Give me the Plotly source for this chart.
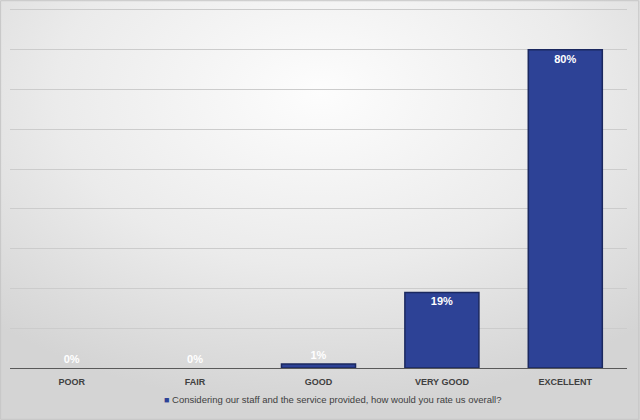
import plotly.graph_objects as go
from urllib.parse import quote

# survey results
ratings = ["POOR", "FAIR", "GOOD", "VERY GOOD", "EXCELLENT"]
shares = [0.0, 0.0, 0.01, 0.19, 0.80]
question = "Considering our staff and the service provided, how would you rate us overall?"

bar_color = "#2d4296"
edge_color = "#1b285f"
font = "Liberation Sans Narrow, Liberation Sans, Arial"

# grey radial background like the office chart style
bg_svg = (
    '<svg xmlns="http://www.w3.org/2000/svg" width="640" height="420" preserveAspectRatio="none">'
    '<defs><radialGradient id="g" cx="50%" cy="22%" r="75%">'
    '<stop offset="0%" stop-color="#fdfdfd"/>'
    '<stop offset="55%" stop-color="#ebebeb"/>'
    '<stop offset="100%" stop-color="#d4d4d4"/>'
    '</radialGradient></defs>'
    '<rect width="640" height="420" fill="url(#g)"/></svg>'
)
bg_uri = "data:image/svg+xml;charset=utf-8," + quote(bg_svg)

# small bars can't hold their label, put those above the bar
positions = ["inside" if v > 0.05 else "outside" for v in shares]
edge_widths = [1.5 if v > 0 else 0 for v in shares]

fig = go.Figure()
fig.add_trace(go.Bar(
    x=ratings,
    y=shares,
    name=question,
    marker=dict(color=bar_color, line=dict(color=edge_color, width=edge_widths)),
    texttemplate="<b>%{y:.0%}</b>",
    textposition=positions,
    insidetextanchor="end",
    textfont=dict(color="white", size=11, family=font),
    cliponaxis=False,
    showlegend=False,
))

W, H = 640, 420
ml, mr, mt, mb = 10, 13, 8, 52
pw, ph = W - ml - mr, H - mt - mb

fig.update_layout(
    width=W,
    height=H,
    margin=dict(l=ml, r=mr, t=mt, b=mb),
    paper_bgcolor="#e4e4e4",
    plot_bgcolor="rgba(0,0,0,0)",
    bargap=0.4,
    font=dict(family=font, color="#404040"),
    xaxis=dict(
        showgrid=False,
        showline=True,
        linecolor="#595959",
        linewidth=1,
        ticks="",
        ticklabelstandoff=5,
        tickfont=dict(size=9, color="#404040", family=font),
        tickprefix="<b>",
        ticksuffix="</b>",
        fixedrange=True,
    ),
    yaxis=dict(
        range=[0, 0.905],
        tickvals=[0.1, 0.2, 0.3, 0.4, 0.5, 0.6, 0.7, 0.8, 0.9],
        showticklabels=False,
        showgrid=True,
        gridcolor="#cccccc",
        gridwidth=1,
        zeroline=False,
        fixedrange=True,
    ),
    annotations=[dict(
        text="<span style='color:%s;font-size:9px'>■</span> %s" % (bar_color, question),
        xref="paper", yref="paper",
        x=(332 - ml) / pw, xanchor="center",
        y=-(400 - (H - mb)) / ph, yanchor="middle",
        showarrow=False,
        font=dict(size=9.5, color="#404040", family=font),
    )],
    images=[dict(
        source=bg_uri,
        xref="paper", yref="paper",
        x=-ml / pw, y=1 + mt / ph,
        sizex=W / pw, sizey=H / ph,
        xanchor="left", yanchor="top",
        sizing="stretch",
        layer="below",
    )],
    shapes=[dict(
        type="rect",
        xref="paper", yref="paper",
        x0=-ml / pw + 0.001, x1=1 + mr / pw - 0.002,
        y0=-mb / ph + 0.002, y1=1 + mt / ph - 0.002,
        line=dict(color="#c6c6c6", width=1),
    )],
)

# drop the default 8px body margin so the chart sits at the window corner
fig.write_html(
    "out.html",
    config={"displayModeBar": False},
    post_script="document.body.style.margin='0';",
)
